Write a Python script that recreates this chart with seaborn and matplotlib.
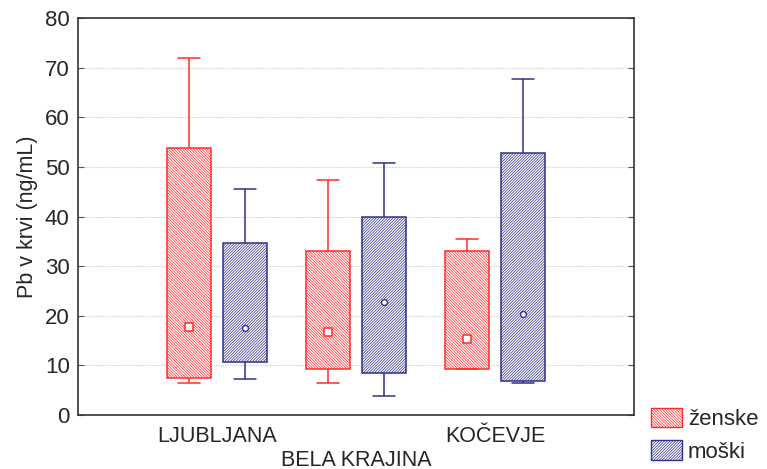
import pandas as pd
import matplotlib.pyplot as plt
import seaborn as sns
from matplotlib.patches import Patch

# values: min, Q1, median, Q3, max per group
sites = ['LJUBLJANA', 'BELA KRAJINA', 'KOČEVJE']
sexes = ['ženske', 'moški']
zenske_min = [6.5, 6.5, 9.2]
zenske_q1 = [7.4, 9.2, 9.3]
zenske_med = [17.7, 16.7, 15.4]
zenske_q3 = [53.8, 33.1, 33.0]
zenske_max = [71.9, 47.3, 35.5]
moski_min = [7.3, 3.8, 6.5]
moski_q1 = [10.6, 8.4, 6.9]
moski_med = [17.6, 22.8, 20.4]
moski_q3 = [34.7, 40.0, 52.8]
moski_max = [45.6, 50.7, 67.7]

red = '#ff2b2b'
blue = '#2f2f8f'
red_hatch = '\\' * 12
blue_hatch = '/' * 12

# long form table: five summary values per box, whis=(0,100) gives min/max whiskers
rows = []
for sex, stats in [('ženske', (zenske_min, zenske_q1, zenske_med, zenske_q3, zenske_max)),
                   ('moški', (moski_min, moski_q1, moski_med, moski_q3, moski_max))]:
    for i, site in enumerate(sites):
        for s in stats:
            rows.append({'site': site, 'sex': sex, 'pb': s[i]})
df = pd.DataFrame(rows)

med = pd.DataFrame({'site': sites * 2, 'sex': ['ženske'] * 3 + ['moški'] * 3,
                    'pb': zenske_med + moski_med})
med['x'] = med['site'].map({s: i for i, s in enumerate(sites)}) + med['sex'].map({'ženske': -0.2, 'moški': 0.2})

sns.set_style('white')
plt.rcParams['font.family'] = ['Liberation Sans', 'DejaVu Sans']
plt.rcParams['hatch.linewidth'] = 0.5

fig = plt.figure(figsize=(7.67, 4.69), dpi=100)
ax = fig.add_axes([0.1017, 0.1151, 0.7249, 0.8465])

sns.boxplot(data=df, x='site', y='pb', hue='sex', order=sites, hue_order=sexes,
            palette={'ženske': red, 'moški': blue}, fill=True, whis=(0, 100),
            width=0.8, gap=0.2, linewidth=1.1, medianprops={'visible': False},
            legend=False, ax=ax)

# white boxes with coloured edges and hatching
for p in ax.patches:
    is_red = p.get_facecolor()[0] > 0.5
    col = red if is_red else blue
    p.set_facecolor('white')
    p.set_edgecolor(col)
    p.set_hatch(red_hatch if is_red else blue_hatch)

# whiskers and caps: colour by side of the group centre
for ln in ax.lines:
    xd = ln.get_xdata()
    if len(xd) == 0:
        continue
    xm = sum(xd) / len(xd)
    ln.set_color(red if xm - round(xm) < 0 else blue)

# median markers
sns.scatterplot(data=med[med['sex'] == 'ženske'], x='x', y='pb', marker='s', s=30,
                facecolor='white', edgecolor=red, linewidth=1.1, zorder=5, ax=ax, legend=False)
sns.scatterplot(data=med[med['sex'] == 'moški'], x='x', y='pb', marker='o', s=18,
                facecolor='white', edgecolor=blue, linewidth=1.0, zorder=5, ax=ax, legend=False)

ax.set_xlim(-1, 3)
ax.set_ylim(0, 80)
ax.set_yticks(range(0, 81, 10))
ax.set_xticks([0, 1, 2])
ax.set_xticklabels(['LJUBLJANA', '\nBELA KRAJINA', 'KOČEVJE'], fontsize=15.5, linespacing=1.15)
ax.tick_params(axis='y', labelsize=16, direction='in', length=4, right=True, left=True,
               color='#555555', pad=6)
ax.tick_params(axis='x', direction='in', length=4, color='#333333', pad=8)
ax.grid(axis='y', linestyle=(0, (1, 1)), color='#cccccc', linewidth=0.8)
ax.set_axisbelow(True)
ax.set_xlabel('')
ax.set_ylabel('Pb v krvi (ng/mL)', fontsize=15.5, labelpad=5)
for sp in ax.spines.values():
    sp.set_color('#333333')
    sp.set_linewidth(1.2)

handles = [Patch(facecolor='white', edgecolor=red, hatch=red_hatch, label='ženske'),
           Patch(facecolor='white', edgecolor=blue, hatch=blue_hatch, label='moški')]
fig.legend(handles=handles, loc='lower left', bbox_to_anchor=(0.843, 0.004), frameon=False,
           fontsize=16, handlelength=1.4, handleheight=1.0, handletextpad=0.25,
           labelspacing=0.45, borderpad=0.2, borderaxespad=0)

fig.savefig('out.png', dpi=100)
